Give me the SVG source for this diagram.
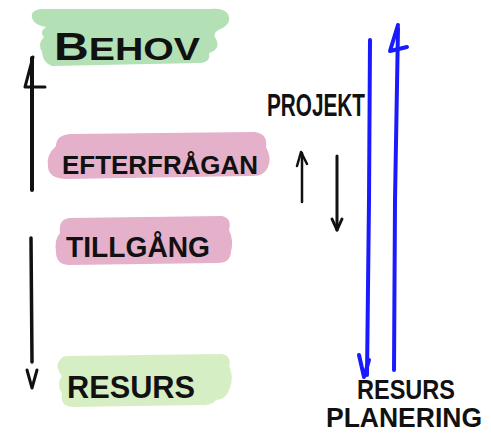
<svg xmlns="http://www.w3.org/2000/svg" width="491" height="438" viewBox="0 0 491 438">
  <style>
    .hand { font-family: "Liberation Sans", "DejaVu Sans", sans-serif; font-weight: bold; fill: #111; }
    .ink { fill: none; stroke: #111; stroke-linecap: round; stroke-linejoin: round; }
    .blue { fill: none; stroke: #1a1aff; stroke-width: 4; stroke-linecap: round; stroke-linejoin: round; }
  </style>
  <rect width="491" height="438" fill="#ffffff"/>

  <!-- need -->
  <g id="behov">
    <path d="M42,9 Q30,10 32,18 Q34,25 46,27 Q39,32 44,37 Q37,44 42,52 Q43,63 52,66 L200,63 Q211,62 209,53 Q221,49 216,39 Q211,32 223,28 Q232,22 228,14 Q224,8 210,9 Z" fill="#b3e1b5"/>
    <text class="hand" x="54" y="60" font-size="31" textLength="146" lengthAdjust="spacingAndGlyphs"><tspan font-size="38">B</tspan>EHOV</text>
  </g>

  <!-- demand -->
  <g id="efterfragan">
    <path d="M70,134 L255,132 Q268,134 266,147 Q272,158 268,167 Q264,177 250,176 L65,179 Q48,178 48,166 Q46,155 56,146 Q56,135 70,134 Z" fill="#e4b0ca"/>
    <text class="hand" x="62" y="174" font-size="25" textLength="196" lengthAdjust="spacingAndGlyphs">EFTERFRÅGAN</text>
  </g>

  <!-- supply -->
  <g id="tillgang">
    <path d="M70,218 L222,216 Q232,218 229,230 Q234,240 231,252 Q230,263 218,263 L68,265 Q56,264 56,252 Q54,240 60,233 Q58,219 70,218 Z" fill="#e4b0ca"/>
    <text class="hand" x="66" y="257" font-size="29" textLength="144" lengthAdjust="spacingAndGlyphs">TILLGÅNG</text>
  </g>

  <!-- resource -->
  <g id="resurs">
    <path d="M68,356 L222,354 Q232,356 229,366 Q234,376 230,388 Q226,400 216,400 Q212,406 200,405 L72,407 Q60,406 62,394 Q56,383 62,376 Q54,366 60,360 Q62,356 68,356 Z" fill="#d6eec3"/>
    <text class="hand" x="67" y="398" font-size="32" textLength="128" lengthAdjust="spacingAndGlyphs">RESURS</text>
  </g>

  <!-- project -->
  <g id="projekt">
    <text class="hand" x="267" y="116" font-size="31" textLength="98" lengthAdjust="spacingAndGlyphs">PROJEKT</text>
  </g>

  <!-- resource planning -->
  <g id="resursplanering">
    <text class="hand" x="357" y="399" font-size="28" textLength="98" lengthAdjust="spacingAndGlyphs">RESURS</text>
    <text class="hand" x="326" y="427" font-size="27" textLength="156" lengthAdjust="spacingAndGlyphs">PLANERING</text>
  </g>

  <g id="connectors">
    <!-- left vertical axis -->
    <path class="ink" stroke-width="4" d="M32,58 L32,190"/>
    <path class="ink" stroke-width="3" d="M33,57 L25,87 L45,87"/>
    <path class="ink" stroke-width="3.5" d="M31,238 L32,362"/>
    <path class="ink" stroke-width="3" d="M27,370 L32,388 L37,370"/>

    <!-- project arrows -->
    <path class="ink" stroke-width="2.5" d="M302,202 L302,153"/>
    <path class="ink" stroke-width="2.5" d="M297,166 L301,152 L307,164"/>
    <path class="ink" stroke-width="3" d="M337,156 L337,230"/>
    <path class="ink" stroke-width="3" d="M332,219 L337,230 L342,219"/>

    <!-- planning lines -->
    <path class="blue" d="M370,40 L369,200 L367,375"/>
    <path class="blue" d="M359,355 L364,377 L369,360"/>
    <path class="blue" d="M394,370 L395,200 L398,28"/>
    <path class="blue" d="M398,25 L390,51 L407,47"/>
  </g>
</svg>
